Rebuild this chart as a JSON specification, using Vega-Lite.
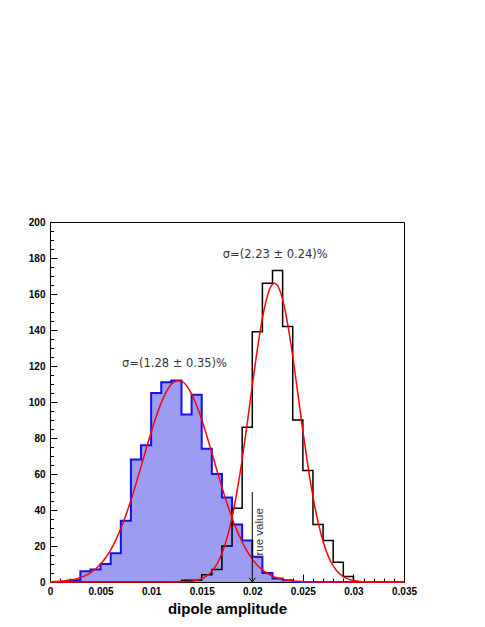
{
  "$schema": "https://vega.github.io/schema/vega-lite/v6.json",
  "autosize": "none",
  "padding": {"left": 50, "top": 222, "right": 81, "bottom": 45},
  "width": 354,
  "height": 360,
  "background": "white",
  "config": {"view": {"stroke": "black", "strokeWidth": 1}},
  "datasets": {
    "blue": [
      {"x": 0, "n": 0}, {"x": 0.001, "n": 0}, {"x": 0.002, "n": 1}, {"x": 0.003, "n": 6},
      {"x": 0.004, "n": 7}, {"x": 0.005, "n": 10}, {"x": 0.006, "n": 16}, {"x": 0.007, "n": 34},
      {"x": 0.008, "n": 68}, {"x": 0.009, "n": 76}, {"x": 0.01, "n": 105}, {"x": 0.011, "n": 111},
      {"x": 0.012, "n": 112}, {"x": 0.013, "n": 93}, {"x": 0.014, "n": 104}, {"x": 0.015, "n": 74},
      {"x": 0.016, "n": 60}, {"x": 0.017, "n": 47}, {"x": 0.018, "n": 32}, {"x": 0.019, "n": 23},
      {"x": 0.02, "n": 14}, {"x": 0.021, "n": 5}, {"x": 0.022, "n": 2}, {"x": 0.023, "n": 1},
      {"x": 0.024, "n": 0}, {"x": 0.025, "n": 0}, {"x": 0.026, "n": 0}, {"x": 0.027, "n": 0},
      {"x": 0.028, "n": 0}, {"x": 0.029, "n": 0}, {"x": 0.03, "n": 0}, {"x": 0.031, "n": 0},
      {"x": 0.032, "n": 0}, {"x": 0.033, "n": 0}, {"x": 0.034, "n": 0}, {"x": 0.035, "n": 0}
    ],
    "black": [
      {"x": 0, "n": 0}, {"x": 0.001, "n": 0}, {"x": 0.002, "n": 0}, {"x": 0.003, "n": 0},
      {"x": 0.004, "n": 0}, {"x": 0.005, "n": 0}, {"x": 0.006, "n": 0}, {"x": 0.007, "n": 0},
      {"x": 0.008, "n": 0}, {"x": 0.009, "n": 0}, {"x": 0.01, "n": 0}, {"x": 0.011, "n": 0},
      {"x": 0.012, "n": 0}, {"x": 0.013, "n": 1}, {"x": 0.014, "n": 1}, {"x": 0.015, "n": 4},
      {"x": 0.016, "n": 7}, {"x": 0.017, "n": 20}, {"x": 0.018, "n": 41}, {"x": 0.019, "n": 86},
      {"x": 0.02, "n": 139}, {"x": 0.021, "n": 166}, {"x": 0.022, "n": 173}, {"x": 0.023, "n": 142},
      {"x": 0.024, "n": 90}, {"x": 0.025, "n": 62}, {"x": 0.026, "n": 32}, {"x": 0.027, "n": 23},
      {"x": 0.028, "n": 11}, {"x": 0.029, "n": 3}, {"x": 0.03, "n": 0}, {"x": 0.031, "n": 0},
      {"x": 0.032, "n": 0}, {"x": 0.033, "n": 0}, {"x": 0.034, "n": 0}, {"x": 0.035, "n": 0}
    ],
    "fitA": [
      {"x": 0, "y": 0.15}, {"x": 0.0005, "y": 0.26}, {"x": 0.001, "y": 0.42}, {"x": 0.0015, "y": 0.67},
      {"x": 0.002, "y": 1.05}, {"x": 0.0025, "y": 1.6}, {"x": 0.003, "y": 2.41}, {"x": 0.0035, "y": 3.54},
      {"x": 0.004, "y": 5.1}, {"x": 0.0045, "y": 7.2}, {"x": 0.005, "y": 9.96}, {"x": 0.0055, "y": 13.5},
      {"x": 0.006, "y": 17.9}, {"x": 0.0065, "y": 23.3}, {"x": 0.007, "y": 29.7}, {"x": 0.0075, "y": 37.1},
      {"x": 0.008, "y": 45.4}, {"x": 0.0085, "y": 54.5}, {"x": 0.009, "y": 64.0}, {"x": 0.0095, "y": 73.7},
      {"x": 0.01, "y": 83.2}, {"x": 0.0105, "y": 91.9}, {"x": 0.011, "y": 99.5}, {"x": 0.0115, "y": 105.6},
      {"x": 0.012, "y": 109.8}, {"x": 0.0125, "y": 111.8}, {"x": 0.0127, "y": 112}, {"x": 0.013, "y": 111.6},
      {"x": 0.0135, "y": 109.1}, {"x": 0.014, "y": 104.5}, {"x": 0.0145, "y": 98.1}, {"x": 0.015, "y": 90.3},
      {"x": 0.0155, "y": 81.3}, {"x": 0.016, "y": 71.8}, {"x": 0.0165, "y": 62.1}, {"x": 0.017, "y": 52.6},
      {"x": 0.0175, "y": 43.7}, {"x": 0.018, "y": 35.6}, {"x": 0.0185, "y": 28.4}, {"x": 0.019, "y": 22.2},
      {"x": 0.0195, "y": 17.0}, {"x": 0.02, "y": 12.7}, {"x": 0.0205, "y": 9.3}, {"x": 0.021, "y": 6.7},
      {"x": 0.0215, "y": 4.75}, {"x": 0.022, "y": 3.28}, {"x": 0.0225, "y": 2.22}, {"x": 0.023, "y": 1.47},
      {"x": 0.0235, "y": 0.96}, {"x": 0.024, "y": 0.61}, {"x": 0.0245, "y": 0.38}, {"x": 0.025, "y": 0.23},
      {"x": 0.026, "y": 0.08}, {"x": 0.027, "y": 0.02}, {"x": 0.028, "y": 0}, {"x": 0.035, "y": 0}
    ],
    "fitB": [
      {"x": 0, "y": 0}, {"x": 0.01, "y": 0}, {"x": 0.011, "y": 0.003}, {"x": 0.012, "y": 0.02},
      {"x": 0.013, "y": 0.11}, {"x": 0.0135, "y": 0.23}, {"x": 0.014, "y": 0.48}, {"x": 0.0145, "y": 0.97},
      {"x": 0.015, "y": 1.84}, {"x": 0.0155, "y": 3.37}, {"x": 0.016, "y": 5.9}, {"x": 0.0165, "y": 9.9},
      {"x": 0.017, "y": 15.9}, {"x": 0.0175, "y": 24.4}, {"x": 0.018, "y": 35.9}, {"x": 0.0185, "y": 50.6},
      {"x": 0.019, "y": 68.2}, {"x": 0.0195, "y": 88.2}, {"x": 0.02, "y": 109.1}, {"x": 0.0205, "y": 129.2},
      {"x": 0.021, "y": 146.5}, {"x": 0.0215, "y": 159.1}, {"x": 0.022, "y": 165.4}, {"x": 0.0222, "y": 166},
      {"x": 0.0225, "y": 164.7}, {"x": 0.023, "y": 157.0}, {"x": 0.0235, "y": 143.3}, {"x": 0.024, "y": 125.3},
      {"x": 0.0245, "y": 104.9}, {"x": 0.025, "y": 84.0}, {"x": 0.0255, "y": 64.5}, {"x": 0.026, "y": 47.4},
      {"x": 0.0265, "y": 33.4}, {"x": 0.027, "y": 22.5}, {"x": 0.0275, "y": 14.5}, {"x": 0.028, "y": 8.95},
      {"x": 0.0285, "y": 5.3}, {"x": 0.029, "y": 3.0}, {"x": 0.0295, "y": 1.6}, {"x": 0.03, "y": 0.85},
      {"x": 0.031, "y": 0.2}, {"x": 0.032, "y": 0.04}, {"x": 0.033, "y": 0}, {"x": 0.035, "y": 0}
    ],
    "arrow": [{"x": 0.02, "y": 0, "y2": 50}],
    "notes": [
      {"x": 0.02227, "y": 181.5, "text": "σ=(2.23 ± 0.24)%"},
      {"x": 0.01231, "y": 121, "text": "σ=(1.28 ± 0.35)%"}
    ],
    "truelabel": [{"x": 0.0208, "y": 27, "text": "true value"}]
  },
  "resolve": {"axis": {"x": "independent", "y": "independent"}},
  "layer": [
    {
      "data": {"name": "blue"},
      "mark": {"type": "area", "interpolate": "step-after", "color": "#9c9cf3", "opacity": 1},
      "encoding": {
        "x": {"field": "x", "type": "quantitative",
          "scale": {"domain": [0, 0.035], "nice": false, "zero": false},
          "axis": {"orient": "bottom", "values": [0, 0.005, 0.01, 0.015, 0.02, 0.025, 0.03, 0.035],
            "tickSize": -8, "tickColor": "black", "domainColor": "black", "grid": false,
            "format": "~g", "labelFont": "Liberation Sans", "labelFontWeight": "bold", "labelFontSize": 10,
            "labelColor": "black", "labelPadding": 12, "labelFlush": false,
            "title": "dipole amplitude", "titleFont": "Liberation Sans", "titleFontWeight": "bold",
            "titleFontSize": 15, "titleColor": "black", "titlePadding": 5}},
        "y": {"field": "n", "type": "quantitative",
          "scale": {"domain": [0, 200], "nice": false},
          "axis": {"orient": "left", "values": [0, 20, 40, 60, 80, 100, 120, 140, 160, 180, 200],
            "tickSize": -7, "tickColor": "black", "domainColor": "black", "grid": false,
            "labelFont": "Liberation Sans", "labelFontWeight": "bold", "labelFontSize": 10,
            "labelColor": "black", "labelPadding": 12, "labelFlush": false, "title": null}}
      }
    },
    {
      "data": {"name": "blue"},
      "mark": {"type": "line", "interpolate": "step-after", "color": "#1010f0", "strokeWidth": 2},
      "encoding": {
        "x": {"field": "x", "type": "quantitative",
          "axis": {"orient": "bottom", "values": [0, 0.001, 0.002, 0.003, 0.004, 0.005, 0.006, 0.007, 0.008, 0.009, 0.01, 0.011, 0.012, 0.013, 0.014, 0.015, 0.016, 0.017, 0.018, 0.019, 0.02, 0.021, 0.022, 0.023, 0.024, 0.025, 0.026, 0.027, 0.028, 0.029, 0.03, 0.031, 0.032, 0.033, 0.034, 0.035],
            "tickSize": -4, "tickColor": "black", "domain": false, "labels": false, "grid": false, "title": null}},
        "y": {"field": "n", "type": "quantitative",
          "axis": {"orient": "left", "values": [0, 5, 10, 15, 20, 25, 30, 35, 40, 45, 50, 55, 60, 65, 70, 75, 80, 85, 90, 95, 100, 105, 110, 115, 120, 125, 130, 135, 140, 145, 150, 155, 160, 165, 170, 175, 180, 185, 190, 195, 200],
            "tickSize": -3.5, "tickColor": "black", "domain": false, "labels": false, "grid": false, "title": null}}
      }
    },
    {
      "data": {"name": "black"},
      "mark": {"type": "line", "interpolate": "step-after", "color": "black", "strokeWidth": 1.5},
      "encoding": {
        "x": {"field": "x", "type": "quantitative", "axis": null},
        "y": {"field": "n", "type": "quantitative", "axis": null}
      }
    },
    {
      "data": {"name": "fitA"},
      "mark": {"type": "line", "interpolate": "monotone", "color": "#ff0000", "strokeWidth": 1.5},
      "encoding": {
        "x": {"field": "x", "type": "quantitative", "axis": null},
        "y": {"field": "y", "type": "quantitative", "axis": null}
      }
    },
    {
      "data": {"name": "fitB"},
      "mark": {"type": "line", "interpolate": "monotone", "color": "#ff0000", "strokeWidth": 1.5},
      "encoding": {
        "x": {"field": "x", "type": "quantitative", "axis": null},
        "y": {"field": "y", "type": "quantitative", "axis": null}
      }
    },
    {
      "data": {"name": "arrow"},
      "mark": {"type": "rule", "color": "black", "strokeWidth": 1},
      "encoding": {
        "x": {"field": "x", "type": "quantitative", "axis": null},
        "y": {"field": "y", "type": "quantitative", "axis": null},
        "y2": {"field": "y2"}
      }
    },
    {
      "data": {"name": "arrow"},
      "mark": {"type": "point", "shape": "M-1,-1.4L0,0L1,-1.4", "filled": false, "stroke": "black", "strokeWidth": 1, "size": 36, "opacity": 1},
      "encoding": {
        "x": {"field": "x", "type": "quantitative", "axis": null},
        "y": {"field": "y", "type": "quantitative", "axis": null}
      }
    },
    {
      "data": {"name": "notes"},
      "mark": {"type": "text", "font": "DejaVu Sans", "fontSize": 11.5, "color": "#333333", "align": "center", "baseline": "middle"},
      "encoding": {
        "x": {"field": "x", "type": "quantitative", "axis": null},
        "y": {"field": "y", "type": "quantitative", "axis": null},
        "text": {"field": "text"}
      }
    },
    {
      "data": {"name": "truelabel"},
      "mark": {"type": "text", "font": "Liberation Sans", "fontSize": 11.5, "color": "#333333", "align": "center", "baseline": "middle", "angle": 270},
      "encoding": {
        "x": {"field": "x", "type": "quantitative", "axis": null},
        "y": {"field": "y", "type": "quantitative", "axis": null},
        "text": {"field": "text"}
      }
    }
  ]
}
